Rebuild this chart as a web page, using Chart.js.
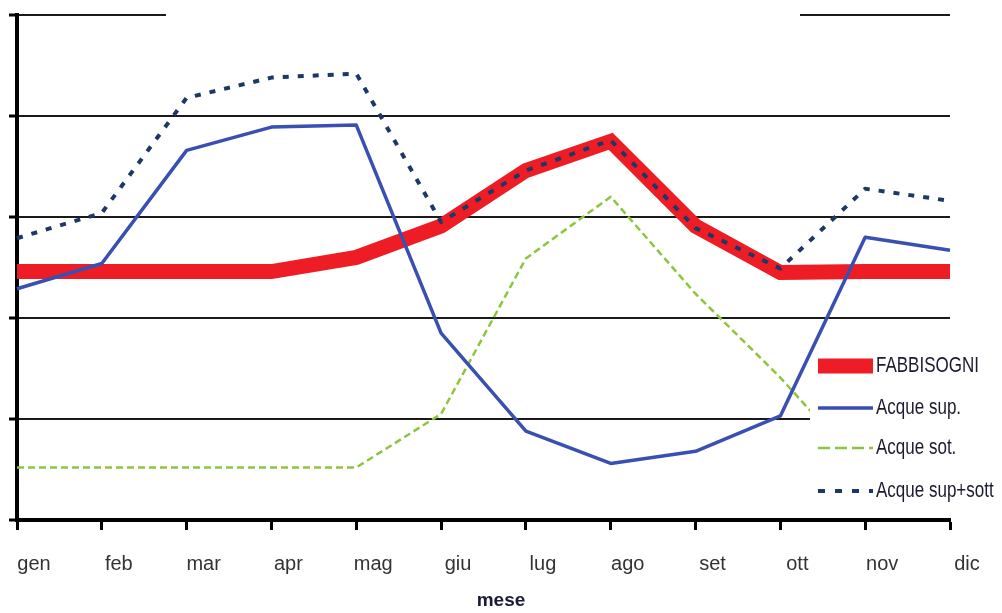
<!DOCTYPE html>
<html>
<head>
<meta charset="utf-8">
<script src="https://cdn.jsdelivr.net/npm/chart.js@4"></script>
<style>
    body { margin: 0; background: #ffffff; }
    #wrap { width: 1002px; height: 613px; position: relative; }
</style>
</head>
<body>
<div id="wrap"><canvas id="chart"></canvas></div>
<script>
// data (one unit = one grid step)
const months = ['gen', 'feb', 'mar', 'apr', 'mag', 'giu', 'lug', 'ago', 'set', 'ott', 'nov', 'dic'];
const fabbisogni = [2.46, 2.46, 2.46, 2.46, 2.60, 2.91, 3.46, 3.75, 2.91, 2.45, 2.46, 2.46];
const acqueSup = [2.29, 2.54, 3.66, 3.89, 3.91, 1.85, 0.88, 0.56, 0.68, 1.03, 2.80, 2.67];
const acqueSot = [0.52, 0.52, 0.52, 0.52, 0.52, 1.05, 2.59, 3.20, 2.24, 1.41, 0.48, 0.47];
const acqueSupSott = [2.79, 3.04, 4.18, 4.38, 4.42, 2.95, 3.46, 3.76, 2.89, 2.49, 3.28, 3.16];
const seriesNames = ['FABBISOGNI', 'Acque sup.', 'Acque sot.', 'Acque sup+sott'];
const xTitle = 'mese';
const yMin = 0;
const yMax = 5;

const NARROW = '"Liberation Sans Narrow", "Arial Narrow", sans-serif';

const styles = [
    { color: '#ee1d25', width: 15, dash: [], legendDash: [] },
    { color: '#3a4fb2', width: 3.5, dash: [], legendDash: [] },
    { color: '#8cc63e', width: 2.5, dash: [7, 4], legendDash: [12, 5] },
    { color: '#1d3866', width: 4, dash: [6, 9], legendDash: [7, 10] }
];

// legend box sits inside the plot, drawn under the blue line (like the original)
const overlay = {
    id: 'overlay',
    beforeDatasetsDraw(chart) {
        const ctx = chart.ctx;
        const top = chart.chartArea.top;
        ctx.save();
        ctx.fillStyle = '#ffffff';
        ctx.fillRect(166, top - 4, 800 - 166, 8);
        ctx.restore();
    },
    beforeDatasetDraw(chart, args) {
        if (args.index !== 1) return;
        const ctx = chart.ctx;
        ctx.save();
        ctx.fillStyle = '#ffffff';
        ctx.fillRect(810, 342, 192, 170);
        ctx.restore();
    },
    afterDatasetsDraw(chart) {
        const ctx = chart.ctx;
        const rows = [366, 408, 448, 491];
        ctx.save();
        seriesNames.forEach((name, i) => {
            const s = styles[i];
            ctx.strokeStyle = s.color;
            ctx.lineWidth = s.width;
            ctx.setLineDash(s.legendDash);
            ctx.lineCap = 'butt';
            ctx.beginPath();
            ctx.moveTo(818, rows[i]);
            ctx.lineTo(873, rows[i]);
            ctx.stroke();
            ctx.setLineDash([]);
            ctx.save();
            ctx.translate(876, rows[i]);
            ctx.scale(1, 1.3);
            ctx.font = '17px ' + NARROW;
            ctx.fillStyle = '#1b1b30';
            ctx.textBaseline = 'middle';
            ctx.fillText(name, 0, 0);
            ctx.restore();
        });
        // axis title
        ctx.font = 'bold 19px ' + NARROW;
        ctx.fillStyle = '#1b1b35';
        ctx.textAlign = 'center';
        ctx.textBaseline = 'middle';
        ctx.fillText(xTitle, 501, 601);
        ctx.restore();
    }
};

const datasets = [fabbisogni, acqueSup, acqueSot, acqueSupSott].map((vals, i) => ({
    label: seriesNames[i],
    data: vals,
    borderColor: styles[i].color,
    backgroundColor: styles[i].color,
    borderWidth: styles[i].width,
    borderDash: styles[i].dash,
    borderCapStyle: 'butt',
    borderJoinStyle: i === 0 ? 'miter' : 'round',
    pointRadius: 0,
    tension: 0,
    fill: false,
    clip: false,
    order: [3, 2, 4, 1][i]
}));

new Chart(document.getElementById('chart'), {
    type: 'line',
    data: { labels: months, datasets: datasets },
    options: {
        responsive: true,
        maintainAspectRatio: false,
        animation: false,
        layout: { padding: { top: 15, right: 52, left: 0, bottom: 0 } },
        plugins: {
            legend: { display: false },
            tooltip: { enabled: false }
        },
        scales: {
            x: {
                offset: false,
                afterFit: (scale) => {
                    scale.height = 93;
                    scale.paddingLeft = 0;
                    scale.paddingRight = 0;
                },
                border: { display: true, color: '#000000', width: 4 },
                grid: {
                    drawOnChartArea: false,
                    drawTicks: true,
                    tickLength: 10,
                    tickWidth: 3,
                    tickColor: '#000000'
                },
                ticks: {
                    color: '#333333',
                    font: { family: NARROW, size: 20 },
                    padding: 22,
                    labelOffset: 17,
                    maxRotation: 0,
                    autoSkip: false
                }
            },
            y: {
                min: yMin,
                max: yMax,
                afterFit: (scale) => { scale.width = 17; },
                border: { display: true, color: '#000000', width: 4 },
                grid: {
                    color: '#1a1a1a',
                    lineWidth: 2,
                    drawTicks: true,
                    tickLength: 8,
                    tickWidth: 3,
                    tickColor: '#000000'
                },
                ticks: { display: false, stepSize: 1 }
            }
        }
    },
    plugins: [overlay]
});
</script>
</body>
</html>
